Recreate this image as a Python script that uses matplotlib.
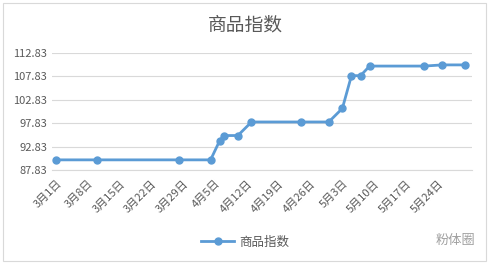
import matplotlib.pyplot as plt
import matplotlib.dates as mdates
from matplotlib.patches import Rectangle
import pandas as pd

plt.rcParams['font.family'] = ['Noto Sans CJK SC', 'DejaVu Sans']

# data
dates = ["2021-03-01", "2021-03-10", "2021-03-28", "2021-04-04", "2021-04-06",
         "2021-04-07", "2021-04-10", "2021-04-13", "2021-04-24", "2021-04-30",
         "2021-05-03", "2021-05-05", "2021-05-07", "2021-05-09", "2021-05-21",
         "2021-05-25", "2021-05-30"]
values = [90.0, 90.0, 90.0, 90.0, 94.1, 95.2, 95.2, 98.1, 98.1, 98.1,
          101.0, 108.0, 108.0, 110.05, 110.05, 110.3, 110.3]
tick_dates = ["2021-03-01", "2021-03-08", "2021-03-15", "2021-03-22", "2021-03-29",
              "2021-04-05", "2021-04-12", "2021-04-19", "2021-04-26", "2021-05-03",
              "2021-05-10", "2021-05-17", "2021-05-24"]
tick_labels = ["3月1日", "3月8日", "3月15日", "3月22日", "3月29日", "4月5日", "4月12日",
               "4月19日", "4月26日", "5月3日", "5月10日", "5月17日", "5月24日"]
y_ticks = [87.83, 92.83, 97.83, 102.83, 107.83, 112.83]
series_name = "商品指数"

x = pd.to_datetime(dates)
xt = pd.to_datetime(tick_dates)

fig = plt.figure(figsize=(4.9, 2.64), dpi=100)
ax = fig.add_axes([0.106, 0.356, 0.857, 0.443])

ax.plot(x, values, color="#5B9BD5", linewidth=2.0, marker="o", markersize=5,
        label=series_name)

ax.set_xlim(pd.Timestamp("2021-02-28") + pd.Timedelta(hours=2), pd.Timestamp("2021-05-31") + pd.Timedelta(hours=12))
ax.set_ylim(87.83, 112.83)
ax.set_yticks(y_ticks)
ax.set_yticklabels([f"{v:.2f}" for v in y_ticks])
ax.set_xticks(xt)
ax.set_xticklabels(tick_labels, rotation=45, ha="right", rotation_mode="anchor")

ax.grid(axis="y", color="#D9D9D9", linewidth=0.8)
ax.set_axisbelow(True)
for s in ["top", "right", "left"]:
    ax.spines[s].set_visible(False)
ax.spines["bottom"].set_color("#D9D9D9")
ax.tick_params(length=0, labelsize=8, colors="#595959")
ax.tick_params(axis="x", pad=6)

fig.text(0.5, 0.905, series_name, ha="center", va="center", fontsize=13.5, color="#595959")

fig.legend(loc="center", bbox_to_anchor=(0.5, 0.083), frameon=False, fontsize=9,
           labelcolor="#595959", handlelength=2.6, handletextpad=0.4)

# watermark
fig.text(0.93, 0.09, "粉体圈", ha="center", va="center", fontsize=9.5, color="#A0A0A0")

fig.patches.append(Rectangle((0.006, 0.01), 0.985, 0.98, transform=fig.transFigure,
                             fill=False, edgecolor="#D9D9D9", linewidth=0.8))

fig.savefig("out.png", dpi=100, facecolor="white")
